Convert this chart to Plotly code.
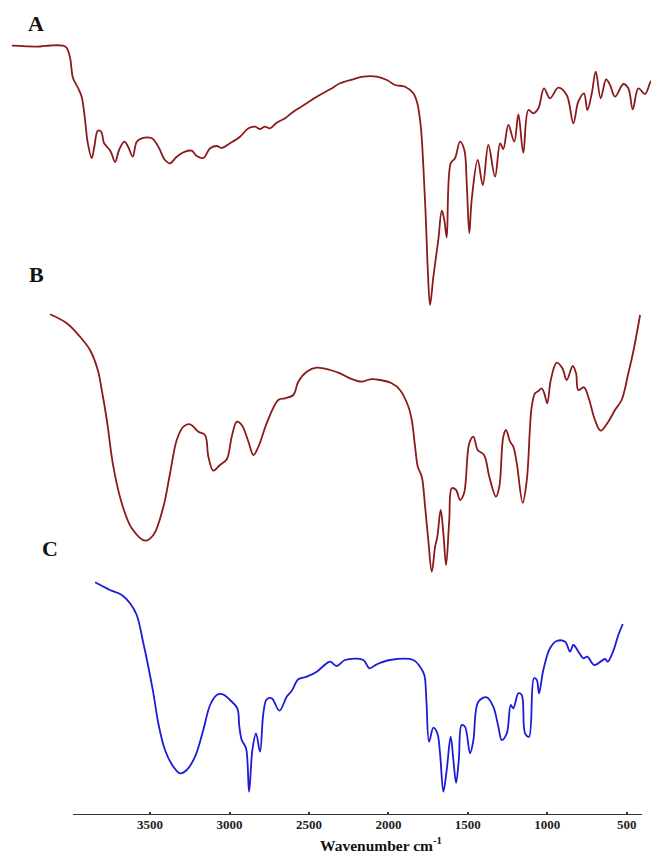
import plotly.graph_objects as go

# Spectrum A (wavenumber cm-1, relative transmittance offset)
a_wn = [4370, 4192, 4129, 4048, 4024, 4003, 3985, 3953, 3930, 3909, 3892, 3867, 3851, 3829, 3808, 3790,
        3771, 3747, 3720, 3695, 3662, 3638, 3609, 3584, 3552, 3489, 3448, 3406, 3374, 3332, 3280, 3238,
        3206, 3165, 3122, 3080, 3049, 2997, 2934, 2881, 2839, 2808, 2776, 2745, 2703, 2650, 2598, 2514,
        2451, 2367, 2304, 2221, 2158, 2073, 2010, 1958, 1895, 1843, 1818, 1796, 1780, 1765, 1752, 1738,
        1717, 1686, 1664, 1648, 1633, 1608, 1581, 1549, 1522, 1507, 1491, 1476, 1438, 1406, 1371, 1329,
        1297, 1277, 1245, 1208, 1182, 1151, 1119, 1088, 1056, 1021, 983, 931, 878, 836, 805, 769, 748,
        720, 695, 664, 630, 605, 574, 521, 490, 462, 427, 385, 343, 297]
a_t = [769.3, 768.5, 769.5, 769.3, 767, 757, 737, 727, 718, 695, 672, 657, 668, 684.3, 683.3, 672,
       668.3, 663.3, 653, 665, 673.3, 668.3, 658.3, 673.3, 676.7, 676.7, 668.3, 655, 651.7, 658.3, 663.3, 664.3,
       659, 657, 666.7, 669, 667, 671.7, 678.3, 686.7, 688.3, 686, 688.3, 686.7, 692.3, 696.7, 703.3, 711.7,
       718.3, 725.7, 731.7, 735.7, 738.3, 738.3, 735, 730, 728.3, 721.7, 711.7, 688.3, 648.3, 598.3, 545, 510,
       538.3, 575, 604.3, 595, 577.7, 651.7, 656.7, 673.3, 665, 631.7, 581.7, 615, 655, 630, 670, 638.3,
       671.7, 666, 690, 673.3, 700.7, 662.3, 705, 701.7, 706.7, 726.7, 716.7, 727.3, 720, 691.7, 713.3, 721.7, 705,
       721.7, 743.3, 716.7, 735.7, 730, 718.3, 731, 726.7, 705.7, 726.7, 721, 734.3, 718.3]

# Spectrum B
b_wn = [4129, 4024, 3941, 3878, 3829, 3804, 3772, 3731, 3678, 3615, 3531, 3479, 3416, 3374, 3332, 3290,
        3248, 3196, 3154, 3133, 3102, 3060, 3017, 2986, 2954, 2923, 2881, 2850, 2818, 2766, 2693, 2650,
        2598, 2567, 2514, 2451, 2367, 2304, 2241, 2168, 2116, 2053, 1979, 1927, 1874, 1853, 1832, 1815,
        1790, 1769, 1749, 1727, 1706, 1692, 1671, 1654, 1637, 1617, 1601, 1574, 1549, 1524, 1491, 1465,
        1438, 1398, 1365, 1323, 1302, 1277, 1260, 1234, 1214, 1192, 1155, 1129, 1098, 1077, 1056, 1035,
        1019, 1000, 978, 941, 905, 878, 840, 819, 805, 769, 742, 700, 664, 616, 574, 532, 490, 459, 416]
b_t = [500.7, 491.7, 478.3, 465, 445, 425, 395, 348.3, 311.7, 286.7, 274.3, 280, 308.3, 341.7, 375, 388.3,
       390.7, 383.3, 380, 358.3, 344.3, 350, 355.7, 378.3, 393.3, 390, 373.3, 360, 368.3, 391.7, 415, 416.7,
       420, 433.3, 443.3, 447.3, 445, 441.7, 436.7, 433.3, 435.7, 435, 431.7, 425, 408.3, 395, 368.3, 348.3,
       338.3, 308.3, 275, 243.3, 268.3, 278.3, 305, 281.7, 250, 295, 326.7, 325, 315, 321.7, 371.7, 378.3,
       365, 360, 338.3, 318.3, 328.3, 378.3, 385, 373.3, 368.3, 351.7, 312.3, 335, 408.3, 421.7, 424, 426.7,
       421.7, 411.7, 435, 452.3, 446.7, 435, 449, 441.7, 425, 427.7, 418.3, 395, 384.3, 393.3, 405, 415, 441.7, 463.3, 500]

# Spectrum C
c_wn = [3846, 3752, 3678, 3626, 3584, 3542, 3511, 3479, 3448, 3406, 3353, 3311, 3269, 3217, 3165, 3122,
        3080, 3042, 2997, 2951, 2938, 2923, 2896, 2877, 2856, 2833, 2808, 2787, 2766, 2734, 2686, 2640,
        2608, 2567, 2514, 2451, 2409, 2367, 2325, 2273, 2158, 2120, 2073, 1990, 1843, 1801, 1774, 1761,
        1744, 1717, 1692, 1675, 1654, 1633, 1608, 1591, 1574, 1557, 1539, 1518, 1486, 1465, 1434, 1381,
        1340, 1308, 1287, 1255, 1230, 1214, 1182, 1161, 1140, 1115, 1084, 1066, 1052, 1025, 983, 941,
        888, 857, 836, 798, 773, 748, 704, 637, 620, 584, 553, 525]
c_t = [232.7, 225, 220, 211.7, 200, 171.7, 148.3, 121.7, 91.7, 65, 48.3, 41.7, 45, 58.3, 85, 110,
       120, 120.7, 115, 106.7, 88.3, 75, 66.7, 23.3, 65, 81.7, 63.3, 101.7, 115.7, 116.7, 104.3, 118.3,
       124.3, 135.7, 138.3, 143.3, 149, 153.3, 149, 155, 155, 146.7, 150.7, 155, 155, 148.3, 140, 115,
       73.3, 87.3, 81.7, 61.7, 23.3, 45, 78.3, 55, 32.3, 55, 90, 88.3, 61.7, 75, 113.3, 117.7,
       108.3, 88.3, 75, 81.7, 110, 106.7, 121.7, 120, 81.7, 78.3, 136.7, 135, 121.7, 145, 166.7, 174,
       173.3, 163.3, 170, 161.7, 156.7, 158.3, 150, 156, 153.3, 164.3, 180, 191]

tick_vals = [3500, 3000, 2500, 2000, 1500, 1000, 500]
tick_text = ["3500", "3000", "2500", "2000", "1500", "1000", "500"]
panel_labels = ["A", "B", "C"]

red = "#8b1a1a"
blue = "#1c1cd6"
serif = "Liberation Serif, Times New Roman, serif"

fig = go.Figure()
fig.add_trace(go.Scatter(x=a_wn, y=a_t, mode="lines", line=dict(color=red, width=1.8), line_shape="spline",
                         showlegend=False, hoverinfo="skip"))
fig.add_trace(go.Scatter(x=b_wn, y=b_t, mode="lines", line=dict(color=red, width=1.8), line_shape="spline",
                         showlegend=False, hoverinfo="skip"))
fig.add_trace(go.Scatter(x=c_wn, y=c_t, mode="lines", line=dict(color=blue, width=1.8), line_shape="spline",
                         showlegend=False, hoverinfo="skip"))

# axis baseline
fig.add_shape(type="line", xref="x", yref="y", x0=3985, x1=404, y0=0, y1=0,
              line=dict(color="#333333", width=2))

W, H = 651, 846
fig.update_layout(
    width=W, height=H,
    margin=dict(l=0, r=0, t=0, b=39),
    paper_bgcolor="white", plot_bgcolor="white",
    xaxis=dict(range=[4394, 297], showgrid=False, zeroline=False, showline=False,
               tickvals=tick_vals, ticktext=tick_text, ticks="inside", ticklen=3, tickwidth=2,
               tickcolor="#333333",
               tickfont=dict(family=serif, size=13, color="#222222", weight="bold")),
    yaxis=dict(range=[0, 807], visible=False, showgrid=False, zeroline=False),
)

label_pos = [(28 / W, 791 / 807), (28 / W, 540 / 807), (42 / W, 267 / 807)]
for lab, (px, py) in zip(panel_labels, label_pos):
    fig.add_annotation(text="<b>%s</b>" % lab, xref="paper", yref="paper", x=px, y=py,
                       showarrow=False, xanchor="center", yanchor="middle",
                       font=dict(family=serif, size=22, color="#111111"))

fig.add_annotation(text="<b>Wavenumber cm<sup>-1</sup></b>", xref="paper", yref="paper",
                   x=373 / W, y=-29 / 807, showarrow=False, xanchor="center", yanchor="middle",
                   font=dict(family=serif, size=15.5, color="#111111"))

fig.write_html("out.html")
